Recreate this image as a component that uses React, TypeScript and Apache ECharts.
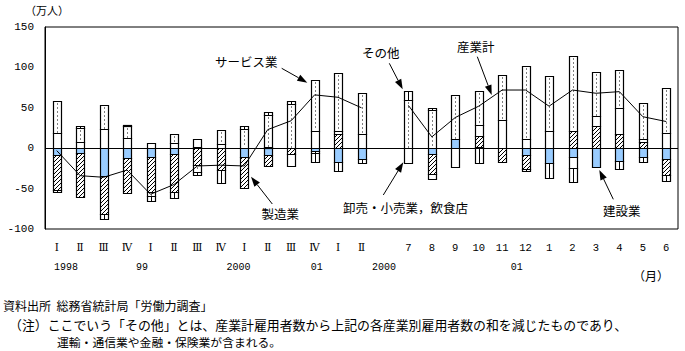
import React, { useEffect, useRef } from 'react';
import * as echarts from 'echarts';

const categories = ['Ⅰ', 'Ⅱ', 'Ⅲ', 'Ⅳ', 'Ⅰ', 'Ⅱ', 'Ⅲ', 'Ⅳ', 'Ⅰ', 'Ⅱ', 'Ⅲ', 'Ⅳ', 'Ⅰ', 'Ⅱ', '',
  '7', '8', '9', '10', '11', '12', '1', '2', '3', '4', '5', '6'];

// 建設業
const construction = [-8.3, -5.4, -34, -11.6, -10.4, -7.4, 2, 0, -10.4, -8.3, 0, -4, -16.6, -13.6, null,
  0, -7, 12, 1, 0, -8.3, -17.8, -10.4, -23.6, -15.8, -10.4, -13.2];
// 製造業
const manufacturing = [-43.4, -55.4, -47.5, -43.4, -43.4, -46.4, -21, -27, -39.2, -13.7, -7, -2, 18, 0, null,
  0, -25, 0, 14, -16.6, -17.7, 0, 21.9, 27.7, 17, 8, -19.8];
// 卸売・小売業，飲食店
const wholesale = [19.4, 7.4, 24, 13, 7, 6, 9, 5, 0, 2, -15, 21.5, 3, 17, null,
  -17.8, -6.5, -22.8, 14, 35, 11, 21.5, -14.4, 12.3, 33, 3, 18.6];
// サービス業
const services = [38.4, 17.8, 30, 14, -5.5, 11, -8, 17, 24, 39.6, 55, 63, 72, 51, null,
  60, 47.5, 53.5, 41.5, 55, 91, 67.4, 92.6, 53.8, 46.6, 44.8, 55.8];
// その他
const others = [-3, 2.5, -6, 2, -6.5, -8, -4, -16, 3.7, 3, 3, -11, -11.6, -5, null,
  11, 2, 0, -18.6, 0, -2, -19.4, -16.6, 0, -10.2, -6.2, -7.6];
// 産業計
const total = [-3, -34, -36, -27, -57, -45, -22, -21, -22, 23, 34, 66, 63, 50, null,
  53, 14, 38, 52, 72, 72, 52, 72, 68, 70, 39, 33];

const yearLabels = ['1998', '99', '2000', '01', '2000', '01'];
const yearLabelX = [66, 142, 238.5, 316.7, 384, 516.7];

const JP = '"Noto Sans CJK JP", sans-serif';

function arrow(x1: number, y1: number, x2: number, y2: number) {
  const ang = Math.atan2(y2 - y1, x2 - x1);
  const L = 10, W = 3.5;
  const bx = x2 - L * Math.cos(ang), by = y2 - L * Math.sin(ang);
  const px = -Math.sin(ang) * W, py = Math.cos(ang) * W;
  return [
    { type: 'line', shape: { x1, y1, x2: bx, y2: by }, style: { stroke: '#000', lineWidth: 1 }, silent: true },
    { type: 'polygon', shape: { points: [[x2, y2], [bx + px, by + py], [bx - px, by - py]] }, style: { fill: '#000' }, silent: true },
  ];
}

function label(text: string, x: number, y: number, size = 12.5, align = 'left') {
  return {
    type: 'text', x, y, silent: true,
    style: { text, fill: '#000', font: `${size}px ${JP}`, textAlign: align, textVerticalAlign: 'middle' },
  };
}

export default function App() {
  const ref = useRef<HTMLDivElement>(null);
  useEffect(() => {
    const chart = echarts.init(ref.current!, null, { renderer: 'svg' });

    const c = document.createElement('canvas');
    c.width = 4; c.height = 4;
    const ctx = c.getContext('2d')!;
    ctx.fillStyle = '#fff'; ctx.fillRect(0, 0, 4, 4);
    ctx.fillStyle = '#000';
    for (let k = 0; k < 4; k++) ctx.fillRect(k, 3 - k, 1, 1);
    const hatch = { image: c.toDataURL(), repeat: 'repeat', imageWidth: 4, imageHeight: 4 };
    const fills: any[] = ['#99CCFF', hatch, '#FFFFFF', '#FFFFFF', '#FFFFFF'];

    const barData = categories
      .map((_, i) => [i, construction[i], manufacturing[i], wholesale[i], services[i], others[i]])
      .filter(d => d[1] !== null);

    const renderItem = (params: any, api: any) => {
      const i = api.value(0);
      const xc = api.coord([i, 0])[0];
      const bw = 8;
      const x0 = Math.round(xc - bw / 2) + 0.5;
      const xm = Math.round(xc) + 0.5;
      let pos = 0, neg = 0;
      const children: any[] = [];
      for (let k = 0; k < 5; k++) {
        const v = api.value(k + 1);
        if (!v) continue;
        let a: number, b: number;
        if (v > 0) { a = pos; b = pos + v; pos = b; } else { a = neg; b = neg + v; neg = b; }
        const ya = Math.round(api.coord([i, a])[1]) + 0.5;
        const yb = Math.round(api.coord([i, b])[1]) + 0.5;
        const top = Math.min(ya, yb), h = Math.abs(ya - yb);
        children.push({
          type: 'rect', shape: { x: x0, y: top, width: bw, height: h },
          style: { fill: fills[k], stroke: '#000', lineWidth: 1.2 },
        });
        if (k === 3 && h > 3) {
          children.push({
            type: 'line', shape: { x1: xm, y1: top + 2, x2: xm, y2: top + h - 1 },
            style: { stroke: '#000', lineWidth: 1, lineDash: [1, 3] },
          });
        }
        if (k === 4) {
          children.push({
            type: 'line', shape: { x1: xm, y1: top, x2: xm, y2: top + h },
            style: { stroke: '#000', lineWidth: 1 },
          });
        }
      }
      return { type: 'group', children };
    };

    const graphics: any[] = [
      label('（万人）', 25, 10, 11),
      label('（月）', 651, 275, 12, 'center'),
      label('資料出所  総務省統計局「労働力調査」', 3, 305, 12),
      label('（注）ここでいう「その他」とは、産業計雇用者数から上記の各産業別雇用者数の和を減じたものであり、', 9, 324, 12.9),
      label('運輸・通信業や金融・保険業が含まれる。', 57, 341, 11.8),
      label('サービス業', 215, 61),
      ...arrow(281.7, 68.3, 307.3, 82.7),
      label('その他', 362, 52),
      ...arrow(389.3, 63.3, 402.7, 89.3),
      label('産業計', 457, 46.7),
      ...arrow(477.3, 56.7, 491.7, 95),
      label('製造業', 261.5, 213.3),
      ...arrow(272.3, 204, 251, 176.7),
      label('卸売・小売業，飲食店', 343, 207.3),
      ...arrow(383.3, 195, 403.3, 162.3),
      label('建設業', 603, 210.7),
      ...arrow(613.3, 199.3, 599.3, 170),
      ...yearLabels.map((t, k) => ({
        type: 'text', x: yearLabelX[k], y: 267, silent: true,
        style: { text: t, fill: '#000', font: '10px "Liberation Mono", monospace', textAlign: 'center', textVerticalAlign: 'middle' },
      })),
    ];

    chart.setOption({
      animation: false,
      backgroundColor: '#fff',
      grid: { left: 45, right: 7, top: 27, bottom: 122, show: true, borderColor: '#000', borderWidth: 1, backgroundColor: 'transparent' },
      xAxis: {
        type: 'category', data: categories, boundaryGap: true,
        axisLine: { show: false }, axisTick: { show: false },
        axisLabel: { interval: 0, color: '#000', fontSize: 10.5, margin: 13, fontFamily: '"Liberation Mono", "DejaVu Serif", serif' },
        splitLine: { show: false },
      },
      yAxis: {
        type: 'value', min: -100, max: 150, interval: 50,
        axisLine: { show: true, lineStyle: { color: '#000', width: 1 } },
        axisTick: { show: false },
        splitLine: { show: false },
        axisLabel: { color: '#000', fontSize: 11, margin: 11, fontFamily: '"Liberation Mono", monospace' },
      },
      series: [
        {
          type: 'custom', name: '産業別', renderItem, data: barData,
          encode: { x: 0, y: [1, 2, 3, 4, 5] }, z: 2, silent: true,
        },
        {
          type: 'line', name: '産業計', data: total, symbol: 'none', z: 5, silent: true,
          lineStyle: { color: '#000', width: 1 },
          markLine: {
            silent: true, symbol: ['none', 'none'], label: { show: false },
            lineStyle: { color: '#000', width: 1, type: 'solid' },
            data: [{ yAxis: 0 }],
          },
        },
      ],
      graphic: graphics,
    });
    return () => chart.dispose();
  }, []);
  return <div ref={ref} style={{ position: 'fixed', left: 0, top: 0, width: 685, height: 351 }} />;
}
